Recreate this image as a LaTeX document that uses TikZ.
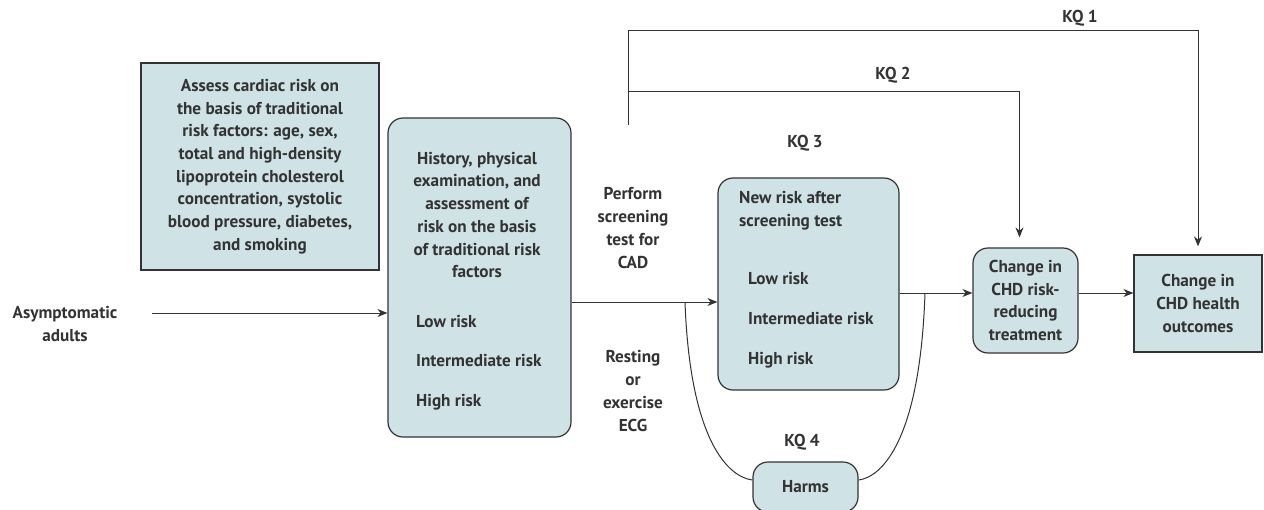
\documentclass[tikz,border=0pt]{standalone}
\usepackage{fontspec}
\setmainfont{PT Sans}
\usetikzlibrary{arrows.meta}
\definecolor{boxfill}{HTML}{CFE2E6}
\definecolor{ink}{HTML}{333333}
\begin{document}
\begin{tikzpicture}[x=1pt,y=-1pt,
  every node/.style={font=\fontsize{17.2}{22.7}\selectfont\bfseries, text=ink, inner sep=0pt},
  sq/.style={draw=ink, line width=1.2pt, fill=boxfill},
  rnd/.style={sq, rounded corners=15pt},
  lbl/.style={text height=12pt, text depth=4pt},
  ln/.style={draw=ink, line width=1pt},
  arr/.style={ln, -{Stealth[length=10pt,width=8pt]}},
]
\clip (0,0) rectangle (1264,509);

% boxes
\node[sq, minimum width=238pt, minimum height=207pt, align=center] (assess) at (260,166.5)
  {Assess cardiac risk on\\the basis of traditional\\risk factors: age, sex,\\total and high-density\\lipoprotein cholesterol\\concentration, systolic\\blood pressure, diabetes,\\and smoking};

\node[rnd, minimum width=183pt, minimum height=319pt] (hist) at (479.5,277.5) {};
\node[align=center] (histtxt) at (477,215)
  {History, physical\\examination, and\\assessment of\\risk on the basis\\of traditional risk\\factors};
\node[lbl, anchor=west] (hlow) at (416,323) {Low risk};
\node[lbl, anchor=west] (hint) at (416,362) {Intermediate risk};
\node[lbl, anchor=west] (hhigh) at (416,402) {High risk};

\node[rnd, minimum width=181pt, minimum height=212pt] (newrisk) at (808.5,284) {};
\node[align=left, anchor=west] (nrtxt) at (739,211) {New risk after\\screening test};
\node[lbl, anchor=west] (nlow) at (748,280) {Low risk};
\node[lbl, anchor=west] (nint) at (748,320) {Intermediate risk};
\node[lbl, anchor=west] (nhigh) at (748,360) {High risk};

\node[rnd, minimum width=105pt, minimum height=105pt, align=center] (treat) at (1025.5,300.5)
  {Change in\\CHD risk-\\reducing\\treatment};
\node[sq, minimum width=128pt, minimum height=97pt, align=center] (outc) at (1198,303.5)
  {Change in\\CHD health\\outcomes};
\node[rnd, minimum width=105pt, minimum height=50pt] (harms) at (805.5,487) {Harms};

% free labels
\node[align=center] (asym) at (65,324) {Asymptomatic\\adults};
\node[align=center] (perform) at (633,228) {Perform\\screening\\test for\\CAD};
\node[align=center] (resting) at (633,391) {Resting\\or\\exercise\\ECG};
\node[lbl] (kq1) at (1080,18) {KQ 1};
\node[lbl] (kq2) at (893,75) {KQ 2};
\node[lbl] (kq3) at (805,143) {KQ 3};
\node[lbl] (kq4) at (802,442) {KQ 4};

% helper coordinates
\coordinate (a0) at (152,313);
\coordinate (h302) at (0,302);
\coordinate (h293) at (0,293);
\coordinate (kqs) at (628,125);
\coordinate (k1) at (628,30);
\coordinate (k2) at (628,91);
\coordinate (c1) at (685,302);
\coordinate (c2) at (925,293);
\coordinate (tdrop) at ([xshift=-6pt]treat.north);

% connectors
\draw[arr] (a0) -- (a0 -| hist.west);
\draw[arr] (hist.east |- h302) -- (newrisk.west |- h302);
\draw[arr] (newrisk.east |- h293) -- (treat.west |- h293);
\draw[arr] (treat.east |- h293) -- (outc.west |- h293);
\draw[ln] (kqs) -- (k1);
\draw[arr, shorten >=8pt] (k1) -- (k1 -| outc.north) -- (outc.north);
\draw[arr, shorten >=10pt] (k2) -- (k2 -| tdrop) -- (tdrop);
\draw[ln] (c1) .. controls (690,440) and (728,477) .. ([yshift=7pt]harms.west);
\draw[ln] (c2) .. controls (920,440) and (882,477) .. ([yshift=7pt]harms.east);
\end{tikzpicture}
\end{document}
